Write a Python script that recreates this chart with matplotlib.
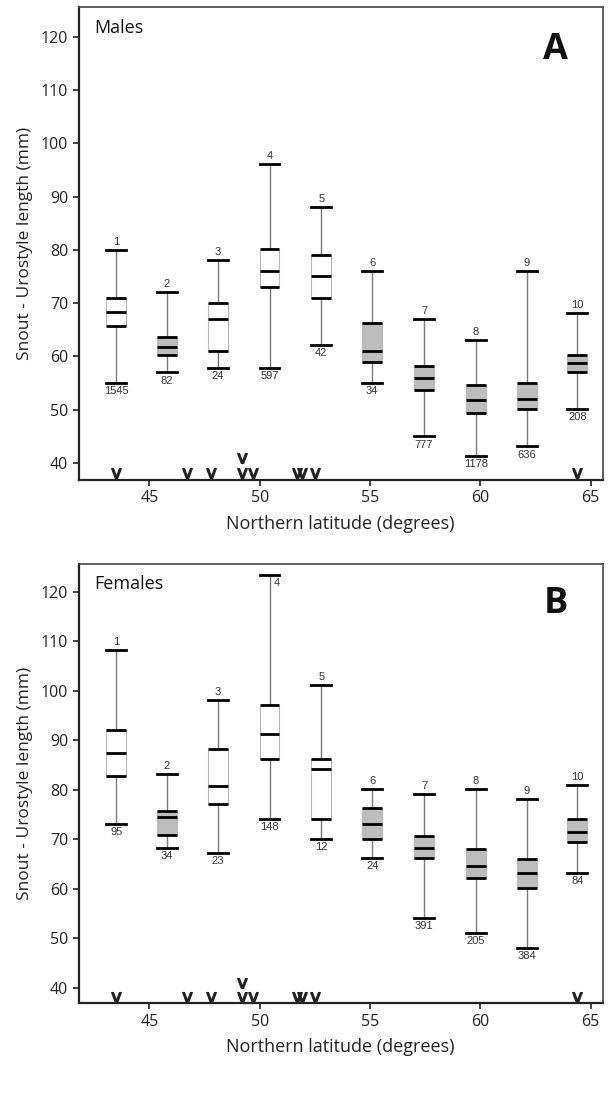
import matplotlib.pyplot as plt

# box positions (latitude axis)
positions = [43.5, 45.8, 48.1, 50.45, 52.8, 55.1, 57.45, 59.8, 62.1, 64.4]
box_ids = [1, 2, 3, 4, 5, 6, 7, 8, 9, 10]

# males
m_lo  = [55.1, 57.0, 57.9, 57.9, 62.1, 55.1, 45.0, 41.3, 43.1, 50.1]
m_q1  = [65.7, 60.2, 61.1, 73.1, 71.0, 59.0, 53.7, 49.4, 50.1, 57.0]
m_med = [68.4, 61.85, 67.0, 76.0, 75.1, 61.1, 56.0, 51.8, 52.0, 58.7]
m_q3  = [71.0, 63.7, 70.0, 80.1, 79.0, 66.2, 58.3, 54.65, 55.1, 60.3]
m_hi  = [80.0, 72.1, 78.1, 96.1, 88.0, 76.0, 67.0, 63.0, 76.0, 68.1]
m_n   = [1545, 82, 24, 597, 42, 34, 777, 1178, 636, 208]
m_grey = [False, True, False, False, False, True, True, True, True, True]

# females
f_lo  = [73.1, 68.1, 67.1, 74.1, 70.1, 66.1, 54.0, 51.0, 48.0, 63.1]
f_q1  = [82.7, 70.9, 77.1, 86.2, 74.1, 70.1, 66.1, 62.2, 60.1, 69.4]
f_med = [87.45, 74.5, 80.7, 91.2, 84.25, 73.1, 68.3, 64.65, 63.1, 71.5]
f_q3  = [92.1, 75.75, 88.2, 97.2, 86.2, 76.2, 70.7, 67.9, 66.0, 74.1]
f_hi  = [108.2, 83.2, 98.1, 123.3, 101.2, 80.1, 79.1, 80.1, 78.1, 81.0]
f_n   = [95, 34, 23, 148, 12, 24, 391, 205, 384, 84]
f_grey = [False, True, False, False, False, True, True, True, True, True]

# sampling site latitudes (v marks along bottom), second row = stacked
site_lat = [43.5, 46.7, 47.8, 49.2, 49.7, 51.7, 51.9, 52.5, 64.4]
site_lat_stacked = [49.2]

yticks = [40, 50, 60, 70, 80, 90, 100, 110, 120]
xticks = [45, 50, 55, 60, 65]

LBL = 'Open Sans'
NUM = 'Liberation Sans'


def panel(ax, lo, q1, med, q3, hi, n, grey, title, letter):
    w = 0.9
    stats = []
    for i in range(len(positions)):
        stats.append(dict(whislo=lo[i], q1=q1[i], med=med[i], q3=q3[i],
                          whishi=hi[i], fliers=[]))
    bp = ax.bxp(stats, positions=positions, widths=w, patch_artist=True,
                manage_ticks=False, capwidths=w,
                boxprops=dict(edgecolor='#b8b8b8', linewidth=0.8),
                whiskerprops=dict(color='#7a7a7a', linewidth=1.0),
                capprops=dict(color='black', linewidth=2.0),
                medianprops=dict(color='black', linewidth=2.0))
    for patch, g in zip(bp['boxes'], grey):
        patch.set_facecolor('#bdbdbd' if g else 'white')
    left = [p - w / 2 for p in positions]
    right = [p + w / 2 for p in positions]
    ax.hlines(q1, left, right, colors='black', linewidth=2.0, zorder=3)
    ax.hlines(q3, left, right, colors='black', linewidth=2.0, zorder=3)

    for i, x in enumerate(positions):
        if hi[i] > 118:
            ax.text(x + 0.35, hi[i] - 0.6, str(box_ids[i]), ha='center',
                    va='top', fontsize=8, color='#333333', family=NUM)
        else:
            ax.text(x, hi[i] + 0.6, str(box_ids[i]), ha='center',
                    va='bottom', fontsize=8, color='#333333', family=NUM)
        ax.text(x, lo[i] - 0.6, str(n[i]), ha='center', va='top',
                fontsize=8, color='#333333', family=NUM)

    # site marks drawn as glyph markers along the axis floor
    ax.plot(site_lat, [38.1] * len(site_lat), linestyle='none',
            marker=r'$\mathsf{v}$', markersize=7, color='#222222',
            clip_on=False)
    ax.plot(site_lat_stacked, [41.0] * len(site_lat_stacked), linestyle='none',
            marker=r'$\mathsf{v}$', markersize=7, color='#222222',
            clip_on=False)

    ax.set_xlim(41.8, 65.55)
    ax.set_ylim(36.8, 125.6)
    ax.set_xticks(xticks)
    ax.set_yticks(yticks)
    ax.tick_params(labelsize=11.5, direction='out', length=4, width=1.2,
                   colors='#222222')
    for lab in ax.get_xticklabels() + ax.get_yticklabels():
        lab.set_family(LBL)
    ax.set_ylabel('Snout - Urostyle length (mm)', fontsize=12.5,
                  color='#222222', family=LBL, labelpad=6)
    ax.set_xlabel('Northern latitude (degrees)', fontsize=13,
                  color='#222222', family=LBL, labelpad=6)
    for side in ['left', 'bottom']:
        ax.spines[side].set_linewidth(1.6)
        ax.spines[side].set_color('#222222')
    for side in ['top', 'right']:
        ax.spines[side].set_linewidth(1.2)
        ax.spines[side].set_color('#444444')
    ax.text(0.03, 0.955, title, transform=ax.transAxes, fontsize=13,
            ha='left', va='center', color='#111111', family=LBL)
    ax.text(0.91, 0.91, letter, transform=ax.transAxes, fontsize=26,
            fontweight='bold', ha='center', va='center', color='#111111',
            family=LBL)


fig = plt.figure(figsize=(6.15, 11.01), dpi=100)
ax1 = fig.add_axes([0.128, 0.564, 0.852, 0.4296])
ax2 = fig.add_axes([0.128, 0.0887, 0.852, 0.399])

panel(ax1, m_lo, m_q1, m_med, m_q3, m_hi, m_n, m_grey, 'Males', 'A')
panel(ax2, f_lo, f_q1, f_med, f_q3, f_hi, f_n, f_grey, 'Females', 'B')

fig.savefig('out.png', dpi=100)
